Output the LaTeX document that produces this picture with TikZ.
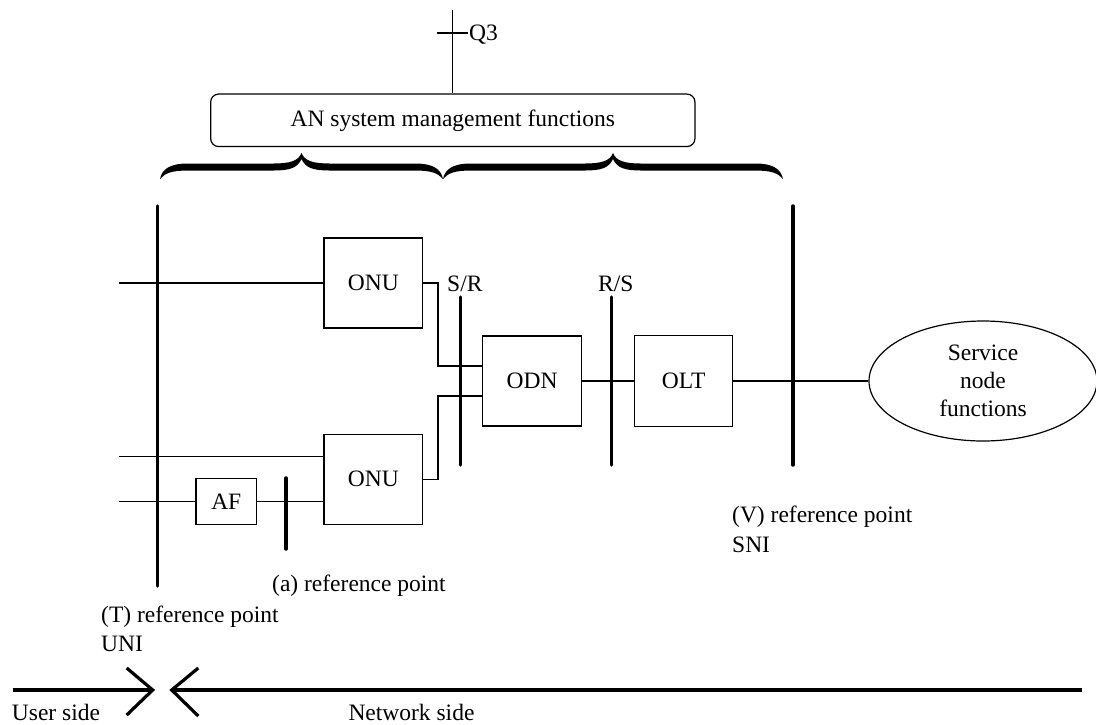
\documentclass[tikz,border=0pt]{standalone}
\usepackage{fontspec}
\setmainfont{Liberation Serif}
\usetikzlibrary{shapes.geometric}
\begin{document}
\begin{tikzpicture}[x=1pt,y=-1pt,
  font=\fontsize{23.5}{28}\selectfont,
  thinline/.style={line width=1.2pt},
  bar/.style={line width=3.5pt, line cap=round},
  box/.style={draw, line width=1.2pt, minimum width=98.7pt, minimum height=90pt, inner sep=0pt},
  lbl/.style={anchor=base west, inner sep=0pt},
  sidearrow/.style={line width=4pt},
  chevron/.style={line width=3.2pt}]
\useasboundingbox (0,0) rectangle (1096,724);

% management box and Q3
\node[draw, rounded corners=8pt, line width=1.2pt, minimum width=484.3pt, minimum height=52.5pt, inner sep=0pt] (an) at (452.8,120.3) {AN system management functions};
\coordinate (q3top) at (452.8,10);
\draw[thinline] (q3top) -- (an.north);
\coordinate (tickL) at (437,33);
\coordinate (tickR) at (468,33);
\draw[thinline] (tickL) -- (tickR);
\node[lbl] (q3) at (469,40) {Q3};

% braces
\foreach \a/\b in {160/443, 443/783}{
  \pgfmathsetmacro\m{(\a+\b)/2}
  \fill (\a,179) .. controls (\a+2,169) and (\a+10,163.5) .. (\a+28,163.5) -- (\m-28,163.5)
    .. controls (\m-12,163.5) and (\m-3,161) .. (\m,153)
    .. controls (\m+3,161) and (\m+12,163.5) .. (\m+28,163.5) -- (\b-28,163.5)
    .. controls (\b-10,163.5) and (\b-2,169) .. (\b,179)
    .. controls (\b-5,173) and (\b-12,170.5) .. (\b-28,170.5) -- (\m+28,170.5)
    .. controls (\m+12,170.5) and (\m+4,168) .. (\m,159)
    .. controls (\m-4,168) and (\m-12,170.5) .. (\m-28,170.5) -- (\a+28,170.5)
    .. controls (\a+12,170.5) and (\a+5,173) .. (\a,179) -- cycle;
}

% boxes
\node[box] (onu1) at (373.3,283) {ONU};
\node[box] (onu2) at (373.3,479.2) {ONU};
\node[box, minimum width=60.7pt, minimum height=46pt] (af) at (226.3,501.7) {AF};
\node[box, minimum width=99pt] (odn) at (532.2,381) {ODN};
\node[box, minimum width=98pt, minimum height=91pt] (olt) at (683.7,381) {OLT};
\node[draw, ellipse, line width=1.2pt, minimum width=228pt, minimum height=120pt, inner sep=0pt, align=center] (sn) at (983,381) {Service\\node\\functions};

% thin connections
\coordinate (in1) at (119.3,283);
\coordinate (in2) at (119.3,456.7);
\coordinate (in3) at (119.3,501.7);
\draw[thinline] (in1) -- (onu1.west);
\draw[thinline] (in2) -- (in2 -| onu2.west);
\draw[thinline] (in3) -- (af.west);
\draw[thinline] (af.east) -- (af.east -| onu2.west);
\draw[thinline] (onu1.east) -- ++(14.8,0) |- ([yshift=15pt]odn.west);
\draw[thinline] (onu2.east) -- ++(14.8,0) |- ([yshift=-15pt]odn.west);
\draw[thinline] (odn.east) -- (olt.west);
\draw[thinline] (olt.east) -- (sn.west);

% reference point bars
\coordinate (Ttop) at (157.7,206);   \coordinate (Tbot) at (157.7,586);
\coordinate (Vtop) at (793,206);     \coordinate (Vbot) at (793,465);
\coordinate (SRtop) at (460.7,297);  \coordinate (SRbot) at (460.7,465);
\coordinate (RStop) at (611.7,297);  \coordinate (RSbot) at (611.7,465);
\coordinate (Atop) at (286,478);     \coordinate (Abot) at (286,549);
\draw[bar] (Ttop) -- (Tbot);
\draw[bar] (Vtop) -- (Vbot);
\draw[bar] (SRtop) -- (SRbot);
\draw[bar] (RStop) -- (RSbot);
\draw[bar] (Atop) -- (Abot);

% labels
\node[lbl] (sr) at (447,291) {S/R};
\node[lbl] (rs) at (598,291) {R/S};
\node[lbl] (aref) at (272,591) {(a) reference point};
\node[lbl] (tref) at (101,622.5) {(T) reference point};
\node[lbl] (uni) at (101,651.5) {UNI};
\node[lbl] (vref) at (732,522) {(V) reference point};
\node[lbl] (sni) at (732,552.5) {SNI};
\node[lbl] (user) at (11.7,720.5) {User side};
\node[lbl] (net) at (348.3,720.5) {Network side};

% user / network side arrows
\coordinate (uL) at (12.7,690);
\coordinate (uR) at (152.7,690);
\coordinate (nL) at (171.7,690);
\coordinate (nR) at (1081.7,690);
\draw[sidearrow] (uL) -- (uR);
\draw[chevron] ([shift={(-26,-22)}]uR) -- (uR) -- ([shift={(-26,25)}]uR);
\draw[sidearrow] (nL) -- (nR);
\draw[chevron] ([shift={(26.6,-22)}]nL) -- (nL) -- ([shift={(26.6,26)}]nL);
\end{tikzpicture}
\end{document}
